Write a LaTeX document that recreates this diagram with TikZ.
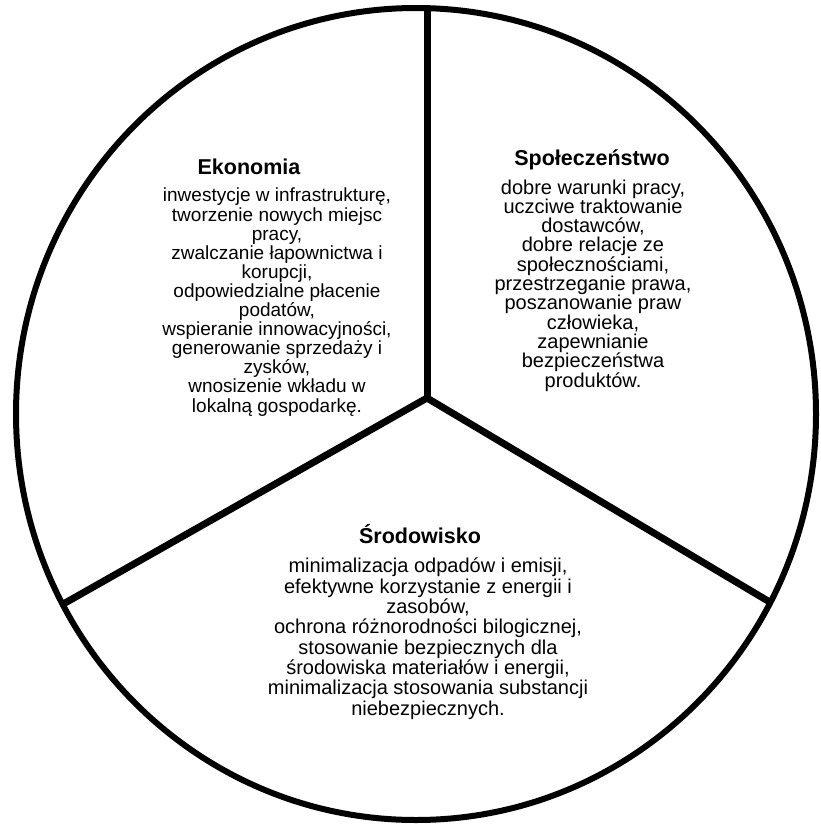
\documentclass[tikz,border=0pt]{standalone}
\usepackage{fontspec}
\setmainfont{Liberation Sans}
\newcommand\tightlines{\lineskiplimit=-30pt\relax}
\begin{document}
\begin{tikzpicture}[x=1pt,y=-1pt,
  rim/.style={line width=6pt},
  divider/.style={line width=7pt,line cap=butt},
  title/.style={font=\fontsize{21.5}{22}\selectfont\bfseries,anchor=base,inner sep=0pt},
  body/.style={align=center,anchor=base,inner sep=0pt}]
\useasboundingbox[fill=white] (0,0) rectangle (820,827);
\begin{scope}
\clip (416,414) ellipse [x radius=400pt, y radius=406pt];
\coordinate (hub) at (427,398);
\coordinate (top) at (427,-20);
\coordinate (left) at (35,620);
\coordinate (right) at (805,623);
\draw[divider] (hub) -- (top);
\draw[divider] (hub) -- (left);
\draw[divider] (hub) -- (right);
\end{scope}
\draw[rim] (416,414) ellipse [x radius=400pt, y radius=406pt];
\node[title] (ekot) at (249,174) {Ekonomia};
\node[body,font=\fontsize{19}{19.1}\selectfont\tightlines] (ekob) at (277,412) {inwestycje w infrastrukturę,\\tworzenie nowych miejsc\\pracy,\\zwalczanie łapownictwa i\\korupcji,\\odpowiedzialne płacenie\\podatów,\\wspieranie innowacyjności,\\generowanie sprzedaży i\\zysków,\\wnosizenie wkładu w\\lokalną gospodarkę.};
\node[title] (spot) at (592,165) {Społeczeństwo};
\node[body,font=\fontsize{20}{19.3}\selectfont\tightlines] (spob) at (593,387) {dobre warunki pracy,\\uczciwe traktowanie\\dostawców,\\dobre relacje ze\\społecznościami,\\przestrzeganie prawa,\\poszanowanie praw\\człowieka,\\zapewnianie\\bezpieczeństwa\\produktów.};
\node[title] (srot) at (420,543) {Środowisko};
\node[body,font=\fontsize{20}{20.3}\selectfont\tightlines] (srob) at (428,715) {minimalizacja odpadów i emisji,\\efektywne korzystanie z energii i\\zasobów,\\ochrona różnorodności bilogicznej,\\stosowanie bezpiecznych dla\\środowiska materiałów i energii,\\minimalizacja stosowania substancji\\niebezpiecznych.};
\end{tikzpicture}
\end{document}
